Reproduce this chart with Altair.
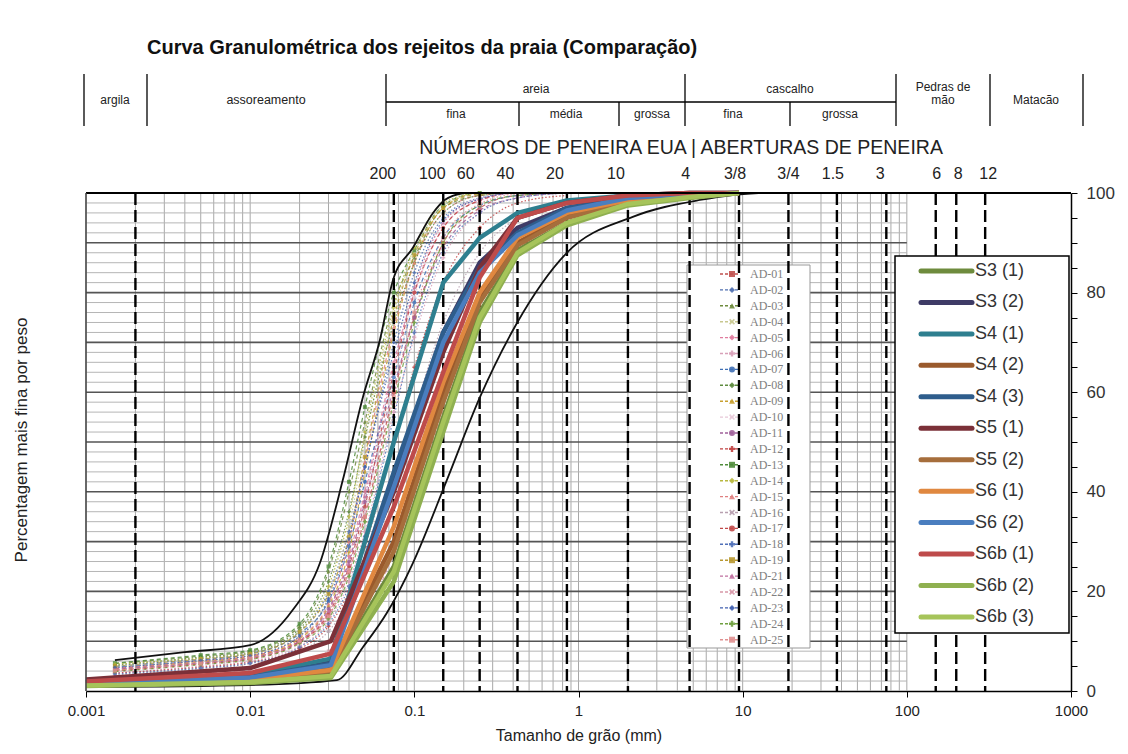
import altair as alt
import pandas as pd

# ---------------- data ----------------
S_NAMES = ["S3 (1)", "S3 (2)", "S4 (1)", "S4 (2)", "S4 (3)", "S5 (1)",
           "S5 (2)", "S6 (1)", "S6 (2)", "S6b (1)", "S6b (2)", "S6b (3)"]
S_COLORS = ["#6E8B3D", "#3E3B66", "#2E7F8F", "#9A5A2C", "#2E5D8C", "#7B3038",
            "#A66E3C", "#E08840", "#4A7EBF", "#BE4B4B", "#8FB050", "#A6C45A"]
S_MM = [0.001, 0.01, 0.031, 0.075, 0.15, 0.25, 0.425, 0.85, 2.0, 4.75, 9.5]
S3_1 = [1.3, 2.0, 3.5, 25, 55, 76, 88.5, 94, 97.8, 99.4, 100]
S3_2 = [1.8, 3.0, 6.0, 43, 72, 86, 93, 97, 99, 99.8, 100]
S4_1 = [2.0, 3.2, 6.5, 50, 82, 91, 96, 98.5, 99.5, 100, 100]
S4_2 = [1.5, 2.5, 4.5, 30, 60, 79, 90, 95.5, 98.5, 99.6, 100]
S4_3 = [1.7, 2.8, 5.5, 44, 72, 85, 92, 97, 99, 99.8, 100]
S5_1 = [2.3, 4.6, 10.0, 40, 68, 85, 95, 98, 99.5, 100, 100]
S5_2 = [1.4, 2.3, 4.0, 28, 58, 78, 89.5, 95, 98.2, 99.5, 100]
S6_1 = [1.4, 2.4, 4.2, 33, 62, 80, 91, 96, 98.6, 99.6, 100]
S6_2 = [1.6, 2.7, 5.2, 41, 70, 84, 91.5, 96.5, 99, 99.8, 100]
S6B_1 = [1.9, 3.6, 7.5, 37, 64, 83, 95, 98, 99.5, 100, 100]
S6B_2 = [1.0, 1.6, 2.6, 22, 52, 74, 87.5, 93.5, 97.5, 99, 100]
S6B_3 = [1.1, 1.8, 3.0, 24, 54, 75, 88, 94, 97.8, 99.2, 100]
S_VALUES = [S3_1, S3_2, S4_1, S4_2, S4_3, S5_1, S5_2, S6_1, S6_2, S6B_1, S6B_2, S6B_3]

AD_NAMES = ["AD-01", "AD-02", "AD-03", "AD-04", "AD-05", "AD-06", "AD-07", "AD-08",
            "AD-09", "AD-10", "AD-11", "AD-12", "AD-13", "AD-14", "AD-15", "AD-16",
            "AD-17", "AD-18", "AD-19", "AD-21", "AD-22", "AD-23", "AD-24", "AD-25"]
AD_COLORS = ["#C0504D", "#4F6FB0", "#6E8B3D", "#C8C890", "#E07C9E", "#D8A0B8",
             "#3F6FB5", "#5E8B3F", "#C8A030", "#E8C8D8", "#A0609A", "#C04040",
             "#4E8B3A", "#B8B840", "#E08080", "#B8A0B0", "#C04848", "#5070B8",
             "#B89830", "#C070A0", "#D898A8", "#4060B0", "#70A040", "#E09090"]
XSHAPE = "M-1,-0.6L-0.6,-1L0,-0.4L0.6,-1L1,-0.6L0.4,0L1,0.6L0.6,1L0,0.4L-0.6,1L-1,0.6L-0.4,0Z"
AD_SHAPES = ["square", "diamond", "triangle-up", XSHAPE, "diamond", "cross",
             "circle", "diamond", "triangle-up", XSHAPE, "circle", "cross",
             "square", "diamond", "triangle-up", XSHAPE, "circle", "cross",
             "square", "triangle-up", XSHAPE, "diamond", "cross", "square"]
AD_DASHED = [True, False, True, False, True, False, True, False, True, False, True, False,
             True, False, True, False, True, False, True, False, True, False, True, False]
AD_MM = [0.0015, 0.005, 0.01, 0.02, 0.03, 0.04, 0.05, 0.075, 0.1, 0.15, 0.25, 0.425, 0.85]
AD_VALUES = [
    [4.5, 6.0, 7.0, 10, 15, 24, 35, 60, 75, 90, 97, 99.5, 100],
    [5.0, 6.5, 7.5, 12, 20, 32, 45, 70, 84, 95, 99, 100, 100],
    [5.5, 7.0, 8.0, 13, 24, 40, 54, 78, 87, 97, 99.5, 100, 100],
    [5.0, 6.0, 7.2, 11, 19, 33, 50, 76, 88, 97.5, 100, 100, 100],
    [4.0, 5.5, 6.5, 10, 16, 27, 40, 66, 80, 93, 98.5, 100, 100],
    [3.5, 5.0, 6.0, 9, 14, 22, 32, 56, 71, 87, 96, 99, 100],
    [4.8, 6.2, 7.5, 11.5, 18, 29, 42, 63, 78, 91, 97.5, 99.5, 100],
    [5.2, 6.8, 7.8, 12.5, 22, 36, 51, 74, 86, 96, 99.5, 100, 100],
    [4.2, 5.8, 6.8, 10.5, 17, 28, 44, 72, 86, 97, 100, 100, 100],
    [3.8, 5.2, 6.2, 9.5, 15, 24, 36, 62, 79, 94, 99, 100, 100],
    [4.4, 5.6, 6.6, 10, 16.5, 26, 38, 61, 75, 89, 96.5, 99, 100],
    [3.6, 4.8, 5.8, 8.5, 13, 20, 29, 50, 65, 82, 93, 98, 99.5],
    [5.6, 7.2, 8.2, 13.5, 25, 42, 57, 80, 88.5, 97.5, 100, 100, 100],
    [5.4, 6.6, 7.6, 12, 21, 35, 52, 77, 89, 98, 100, 100, 100],
    [4.6, 6.0, 7.0, 10.8, 17.5, 30, 46, 73, 86, 96, 99.5, 100, 100],
    [3.2, 4.5, 5.5, 8, 12, 18, 25, 42, 56, 74, 88, 95, 98.5],
    [4.0, 5.4, 6.4, 9.8, 15.5, 25, 37, 64, 80, 93, 98.5, 100, 100],
    [3.4, 4.6, 5.6, 8.8, 13.5, 21, 31, 55, 72, 88, 96, 99, 100],
    [5.0, 6.4, 7.4, 11.8, 19.5, 31, 47, 75, 87.5, 97, 99.8, 100, 100],
    [4.3, 5.7, 6.7, 10.2, 16, 25.5, 39, 65, 81, 94, 98.8, 100, 100],
    [2.8, 3.6, 4.2, 5.8, 8, 11, 15, 28, 40, 56, 74, 88, 96],
    [4.7, 6.1, 7.1, 11, 18.5, 30.5, 45, 68, 82, 94.5, 98.8, 100, 100],
    [3.9, 5.3, 6.3, 9.6, 14.5, 23, 34, 58, 74, 90, 97.5, 99.5, 100],
    [4.1, 5.5, 6.5, 10, 15, 24, 35, 59, 76, 91, 97.8, 99.8, 100],
]

ENV_FINE_MM = [0.0015, 0.004, 0.01, 0.0182, 0.0266, 0.0367, 0.0486, 0.0617, 0.0741,
               0.098, 0.130, 0.153, 0.2]
ENV_FINE_PCT = [6.2, 7.8, 9.2, 16.3, 25.7, 42.4, 59, 70.5, 82.5, 89, 96, 98.6, 100]
ENV_COARSE_MM = [0.001, 0.01, 0.0338, 0.0486, 0.0681, 0.098, 0.158, 0.251, 0.422,
                 0.849, 2.14, 5.48, 8.7, 12.5]
ENV_COARSE_PCT = [0.8, 1.2, 2.2, 8.8, 15.7, 25.7, 42.4, 59, 73.9, 88, 95.2, 98.6, 99.6, 100]

SIEVE_MM = [0.002, 0.075, 0.15, 0.25, 0.425, 0.85, 2.0, 4.75, 9.5, 19, 37.5, 75, 150, 200, 300]
SIEVE_LABELS = ["", "200", "100", "60", "40", "20", "10", "4", "3/8", "3/4", "1.5", "3",
                "6", "8", "12"]
SIEVE_LABEL_DX = [0, -11, -11, -14, -12, -12, -12, -4, -4, 0, -4, -6, 1, 2, 3]

X_TICKS = [0.001, 0.01, 0.1, 1, 10, 100, 1000]

# ---------------- layout constants ----------------
W, H = 985, 498
OX, OY = 86, 193          # page position of plot origin
FONT = "Liberation Sans"

xs = alt.Scale(type="log", domain=[0.001, 1000])
ys = alt.Scale(domain=[0, 100])
xax = alt.Axis(values=X_TICKS, format="~g", title="Tamanho de grão (mm)", grid=False,
               domainColor="black", domainWidth=1.5, tickColor="black", tickSize=6,
               labelFont=FONT, labelFontSize=15, labelColor="#222", labelPadding=6,
               titleFont=FONT, titleFontSize=16, titleFontWeight="normal",
               titleColor="#222", titlePadding=9, labelFlush=False)
yax = alt.Axis(orient="right", values=list(range(0, 101, 5)),
               labelExpr="datum.value % 20 === 0 ? datum.label : ''",
               title=None, grid=False, domainColor="black", domainWidth=1.5,
               tickColor="black", tickSize=6, labelFont=FONT, labelFontSize=17,
               labelColor="#333", labelPadding=9)


def X(field):
    return alt.X(field, type="quantitative", scale=xs, axis=xax)


def Y(field):
    return alt.Y(field, type="quantitative", scale=ys, axis=yax)


def PX(field):
    return alt.X(field, type="quantitative", scale=None)


def PY(field):
    return alt.Y(field, type="quantitative", scale=None)


layers = []

# ---- grid ----
minor_x = [k * 10 ** n for n in range(-3, 2) for k in range(1, 10)] + [100]
layers.append(alt.Chart(pd.DataFrame({"g": minor_x})).mark_rule(
    color="#a8a8a8", strokeWidth=1).encode(x=X("g"), y=alt.value(0), y2=alt.value(H)))
thin = [v for v in range(2, 100, 2) if v % 10 != 0]
layers.append(alt.Chart(pd.DataFrame({"a": 0.001, "b": 100, "v": thin})).mark_rule(
    color="#b5b5b5", strokeWidth=1).encode(x=X("a"), x2="b", y=Y("v")))
major = list(range(10, 100, 10))
layers.append(alt.Chart(pd.DataFrame({"a": 0.001, "b": 100, "v": major})).mark_rule(
    color="#555555", strokeWidth=1.6).encode(x=X("a"), x2="b", y=Y("v")))

# ---- AD legend box + entries (under dashed lines) ----
ad_leg = pd.DataFrame({
    "name": AD_NAMES, "color": AD_COLORS, "shape": AD_SHAPES,
    "py": [81 + i * 15.9 for i in range(len(AD_NAMES))],
})
ad_leg["x1"] = 634
ad_leg["x2"] = 654
ad_leg["xm"] = 646
ad_leg["xt"] = 664
layers.append(alt.Chart(pd.DataFrame({"a": [601], "b": [724], "c": [72], "d": [455]})).mark_rect(
    fill="white", stroke="#999999", strokeWidth=1).encode(
    x=PX("a"), x2="b", y=PY("c"), y2="d"))
layers.append(alt.Chart(ad_leg).mark_rule(strokeWidth=1.4, strokeDash=[3, 2]).encode(
    x=PX("x1"), x2="x2", y=PY("py"), color=alt.Color("color:N", scale=None)))
layers.append(alt.Chart(ad_leg).mark_point(filled=True, size=36, opacity=0.9).encode(
    x=PX("xm"), y=PY("py"), color=alt.Color("color:N", scale=None),
    shape=alt.Shape("shape:N", scale=None)))
layers.append(alt.Chart(ad_leg).mark_text(
    font="Liberation Serif", fontSize=12, color="#808080", align="left",
    baseline="middle").encode(x=PX("xt"), y=PY("py"), text="name:N"))

# ---- AD curves ----
rows = []
for name, col, shp, dsh, vals in zip(AD_NAMES, AD_COLORS, AD_SHAPES, AD_DASHED, AD_VALUES):
    for mm, v in zip(AD_MM, vals):
        rows.append({"name": name, "mm": mm, "pct": v, "color": col, "shape": shp,
                     "dashed": dsh})
ad_df = pd.DataFrame(rows)
layers.append(alt.Chart(ad_df[ad_df.dashed]).mark_line(
    strokeWidth=1.2, strokeDash=[4, 3], interpolate="monotone", opacity=0.85).encode(
    x=X("mm"), y=Y("pct"), detail="name:N", color=alt.Color("color:N", scale=None)))
layers.append(alt.Chart(ad_df[~ad_df.dashed]).mark_line(
    strokeWidth=1.2, strokeDash=[1.5, 2], interpolate="monotone", opacity=0.85).encode(
    x=X("mm"), y=Y("pct"), detail="name:N", color=alt.Color("color:N", scale=None)))
layers.append(alt.Chart(ad_df[ad_df.mm < 0.3]).mark_point(filled=True, size=16, opacity=0.8).encode(
    x=X("mm"), y=Y("pct"), color=alt.Color("color:N", scale=None),
    shape=alt.Shape("shape:N", scale=None)))

# ---- sieve dashed lines ----
layers.append(alt.Chart(pd.DataFrame({"mm": SIEVE_MM})).mark_rule(
    color="black", strokeWidth=2.4, strokeDash=[12, 5]).encode(
    x=X("mm"), y=alt.value(0), y2=alt.value(H)))

# ---- envelopes ----
env = pd.DataFrame({"name": ["fine"] * len(ENV_FINE_MM) + ["coarse"] * len(ENV_COARSE_MM),
                    "mm": ENV_FINE_MM + ENV_COARSE_MM,
                    "pct": ENV_FINE_PCT + ENV_COARSE_PCT})
layers.append(alt.Chart(env).mark_line(color="#111111", strokeWidth=1.8,
                                       interpolate="monotone").encode(
    x=X("mm"), y=Y("pct"), detail="name:N"))

# ---- S curves ----
for name, col, vals in zip(S_NAMES, S_COLORS, S_VALUES):
    d = pd.DataFrame({"mm": S_MM, "pct": vals})
    layers.append(alt.Chart(d).mark_line(color=col, strokeWidth=4.5, strokeJoin="round").encode(
        x=X("mm"), y=Y("pct")))

# ---- frame ----
layers.append(alt.Chart(pd.DataFrame({"a": [0]})).mark_rule(color="black", strokeWidth=1.8).encode(
    x=alt.value(0), x2=alt.value(W), y=alt.value(0)))
layers.append(alt.Chart(pd.DataFrame({"a": [0]})).mark_rule(color="#444444", strokeWidth=1.5).encode(
    x=alt.value(0), y=alt.value(0), y2=alt.value(H)))

# ---- S legend ----
s_leg = pd.DataFrame({"name": S_NAMES, "color": S_COLORS,
                      "py": [78 + i * 31.45 for i in range(len(S_NAMES))]})
s_leg["x1"] = 835
s_leg["x2"] = 886
s_leg["xt"] = 889
layers.append(alt.Chart(pd.DataFrame({"a": [809], "b": [983], "c": [63], "d": [440]})).mark_rect(
    fill="white", stroke="black", strokeWidth=1.5).encode(
    x=PX("a"), x2="b", y=PY("c"), y2="d"))
layers.append(alt.Chart(s_leg).mark_rule(strokeWidth=5, strokeCap="round").encode(
    x=PX("x1"), x2="x2", y=PY("py"), color=alt.Color("color:N", scale=None)))
layers.append(alt.Chart(s_leg).mark_text(font=FONT, fontSize=18, color="#333333",
                                         align="left", baseline="middle").encode(
    x=PX("xt"), y=PY("py"), text="name:N"))

# ---- sieve labels (top) ----
sl = pd.DataFrame({"mm": SIEVE_MM, "label": SIEVE_LABELS, "dx": SIEVE_LABEL_DX})
sl = sl[sl.label != ""]
for dxv, grp in sl.groupby("dx"):
    layers.append(alt.Chart(grp).mark_text(font=FONT, fontSize=16, color="#222",
                                           baseline="middle", dx=float(dxv)).encode(
        x=X("mm"), y=alt.value(-19), text="label:N"))

# ---- header texts and table ----
def T(x, y):
    return x - OX, y - OY

hdr = [
    ("NÚMEROS DE PENEIRA EUA | ABERTURAS DE PENEIRA", 681, 148, 19.5),
    ("areia", 536, 89, 12), ("cascalho", 790, 89, 12),
    ("argila", 115, 100, 12), ("assoreamento", 266, 100, 12.5),
    ("Pedras de", 943, 87, 12), ("mão", 943, 100, 12), ("Matacão", 1036, 100, 12),
    ("fina", 456, 114, 12), ("média", 566, 114, 12), ("grossa", 652, 114, 12),
    ("fina", 733, 114, 12), ("grossa", 840, 114, 12),
    ("Percentagem mais fina por peso", 22, 440, 17),
]
hdf = pd.DataFrame([{"t": t, "px": T(x, y)[0], "py": T(x, y)[1], "fs": fs} for t, x, y, fs in hdr])
layers.append(alt.Chart(hdf.iloc[:-1]).mark_text(font=FONT, color="#222", baseline="middle").encode(
    x=PX("px"), y=PY("py"), text="t:N", size=alt.Size("fs:Q", scale=None)))
layers.append(alt.Chart(hdf.iloc[-1:]).mark_text(font=FONT, color="#222", baseline="middle",
                                                 angle=270).encode(
    x=PX("px"), y=PY("py"), text="t:N", size=alt.Size("fs:Q", scale=None)))
title_df = pd.DataFrame({"t": ["Curva Granulométrica dos rejeitos da praia (Comparação)"],
                         "px": [147 - OX], "py": [48 - OY]})
layers.append(alt.Chart(title_df).mark_text(font=FONT, fontSize=20, fontWeight="bold",
                                            color="#111", align="left", baseline="middle").encode(
    x=PX("px"), y=PY("py"), text="t:N"))

# table lines (page coordinates converted)
tl = []
for xp in [84, 147, 386, 685, 896, 990, 1083]:
    tl.append({"a": xp - OX, "b": xp - OX, "c": 74 - OY, "d": 126 - OY})
for xp in [519, 619, 790]:
    tl.append({"a": xp - OX, "b": xp - OX, "c": 102 - OY, "d": 126 - OY})
tl.append({"a": 386 - OX, "b": 896 - OX, "c": 102 - OY, "d": 102 - OY})
layers.append(alt.Chart(pd.DataFrame(tl)).mark_rule(color="black", strokeWidth=1.3).encode(
    x=PX("a"), x2="b", y=PY("c"), y2="d"))

chart = alt.layer(*layers).properties(
    width=W, height=H,
    padding={"left": OX - 8, "top": OY - 8, "right": 48, "bottom": 55},
    autosize=alt.AutoSizeParams(type="none"),
).configure_view(stroke=None)

chart.save("out.html", embed_options={"renderer": "svg", "actions": False})
